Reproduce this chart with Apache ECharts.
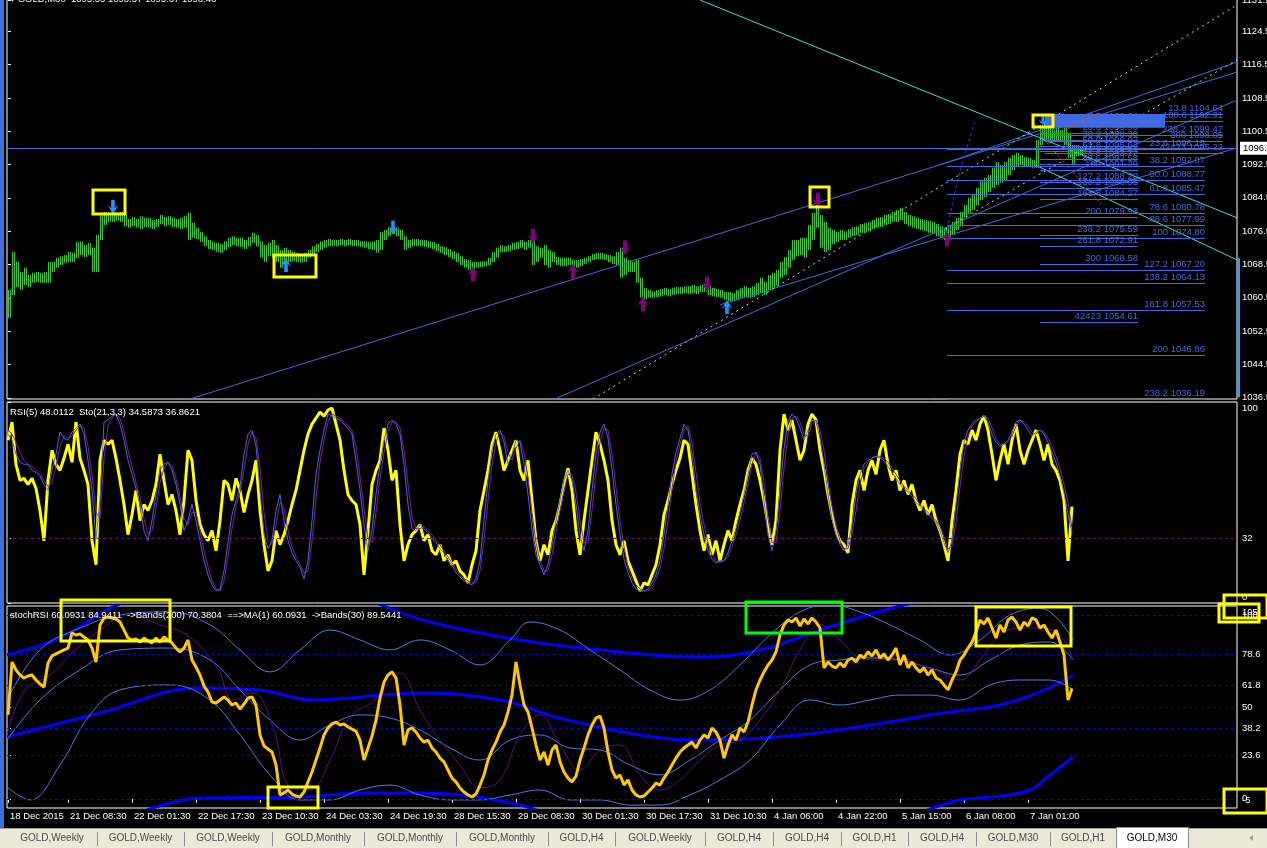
<!DOCTYPE html>
<html><head><meta charset="utf-8">
<script src="https://cdn.jsdelivr.net/npm/echarts@6/dist/echarts.min.js"></script>
<style>html,body{margin:0;padding:0;background:#000;overflow:hidden}#c{width:1267px;height:848px}</style>
</head><body><div id="c"></div>
<script>
// ---------------- DATA ----------------
const timeLabels = ['18 Dec 2015','21 Dec 08:30','22 Dec 01:30','22 Dec 17:30','23 Dec 10:30','24 Dec 03:30','24 Dec 19:30','28 Dec 15:30','29 Dec 08:30','30 Dec 01:30','30 Dec 17:30','31 Dec 10:30','4 Jan 06:00','4 Jan 22:00','5 Jan 15:00','6 Jan 08:00','7 Jan 01:00'];
const timeLabelBars = [0,30,62,94,126,158,190,222,254,286,318,350,382,414,446,478,510];
const priceTicks = [1036.5,1044.5,1052.5,1060.5,1068.5,1076.5,1084.5,1092.5,1100.5,1108.5,1116.5,1124.5,1131.9];
const rsiTicks = [100,32,0];
const rsiLevels = [32];
const stochTicks = [100,78.6,61.8,50,38.2,23.6,0];
const stochEdgeTicks = [105,-5];
const stochLevels = [100,78.6,61.8,50,38.2,23.6,0];
const bidPrice = 1096.4;

// one sample every 2 bars (M30)
const priceHigh = [1062.4,1071.5,1069.1,1066.7,1067.7,1066.0,1066.5,1066.7,1066.5,1066.7,
1069.1,1069.1,1070.1,1070.5,1070.8,1071.5,1071.3,1073.9,1074.1,1073.2,
1073.7,1072.5,1075.6,1080.9,1081.1,1080.9,1081.1,1080.9,1081.1,1080.4,
1079.4,1079.9,1079.4,1080.1,1079.7,1079.7,1079.2,1079.4,1080.4,1079.9,
1080.1,1079.7,1079.4,1079.7,1080.1,1080.9,1078.5,1077.3,1076.3,1075.3,
1074.4,1073.9,1073.7,1073.4,1074.1,1074.9,1075.3,1074.9,1074.9,1074.4,
1075.1,1076.1,1075.6,1074.1,1073.2,1073.7,1074.4,1073.2,1072.0,1072.5,
1072.0,1071.5,1071.3,1070.8,1071.3,1072.0,1072.9,1073.4,1074.1,1074.4,
1074.6,1074.4,1074.4,1074.6,1074.4,1074.6,1074.4,1074.4,1074.1,1074.1,
1073.9,1074.1,1074.4,1076.3,1076.8,1077.3,1077.5,1077.3,1076.8,1075.3,
1074.4,1074.6,1074.6,1074.4,1074.4,1074.1,1073.9,1073.4,1072.9,1072.7,
1072.2,1071.7,1071.3,1070.5,1069.8,1069.6,1069.1,1069.1,1069.3,1069.3,
1070.1,1071.5,1072.5,1073.2,1072.9,1073.2,1073.7,1073.9,1074.4,1073.9,
1074.4,1075.6,1072.9,1072.5,1073.2,1072.0,1071.5,1070.3,1070.1,1070.1,
1070.1,1069.6,1069.6,1069.8,1070.1,1070.5,1071.0,1071.3,1071.3,1071.0,
1070.8,1070.5,1071.5,1072.5,1070.1,1069.6,1069.1,1069.6,1065.3,1062.9,
1062.4,1062.1,1062.4,1062.6,1062.9,1062.6,1062.9,1063.1,1063.1,1063.3,
1063.3,1063.6,1063.3,1063.6,1063.8,1063.3,1062.9,1062.6,1062.4,1061.9,
1061.9,1061.6,1062.4,1062.9,1063.3,1062.9,1063.3,1064.1,1065.3,1064.3,
1066.0,1066.5,1067.2,1069.1,1070.3,1072.0,1074.4,1074.4,1074.9,1074.9,
1078.0,1080.9,1082.8,1080.4,1078.7,1077.3,1076.8,1076.3,1076.8,1076.5,
1077.0,1077.5,1077.7,1078.2,1078.5,1078.7,1079.2,1079.7,1079.9,1080.4,
1080.6,1081.1,1081.6,1082.1,1081.1,1080.4,1080.1,1079.7,1079.4,1079.2,
1079.0,1078.7,1078.2,1077.7,1077.3,1078.0,1078.7,1079.7,1081.1,1082.8,
1084.5,1085.2,1086.9,1088.8,1089.3,1090.0,1091.7,1093.1,1092.4,1093.1,
1094.1,1094.8,1095.3,1094.8,1094.3,1094.1,1093.6,1098.4,1102.0,1102.7,
1101.3,1100.8,1101.3,1100.8,1101.3,1100.1,1097.2,1097.2,1096.7];
const priceLow = [1055.7,1061.2,1063.1,1062.4,1063.6,1063.1,1064.1,1064.3,1064.1,1064.1,
1064.1,1066.7,1067.7,1068.4,1068.9,1069.1,1069.1,1070.1,1070.8,1070.3,
1070.8,1066.7,1066.7,1074.4,1078.0,1078.7,1078.7,1079.0,1078.7,1077.7,
1077.3,1077.7,1077.3,1077.0,1077.5,1077.3,1077.0,1077.5,1078.2,1077.7,
1078.0,1077.5,1077.3,1077.0,1077.3,1074.4,1074.9,1074.6,1073.9,1072.9,
1072.2,1072.0,1071.5,1071.3,1072.0,1072.7,1073.2,1072.9,1072.7,1072.2,
1072.9,1073.7,1072.9,1070.1,1069.1,1070.5,1070.1,1069.1,1067.7,1069.1,
1069.1,1069.3,1069.1,1068.9,1069.1,1070.1,1070.8,1071.5,1072.0,1072.5,
1072.9,1072.9,1072.9,1073.2,1072.9,1073.2,1072.9,1072.9,1072.7,1072.5,
1072.2,1072.0,1071.3,1072.0,1074.4,1075.3,1075.8,1075.3,1074.4,1072.0,
1072.5,1072.9,1072.9,1072.9,1072.7,1072.5,1072.2,1071.7,1071.3,1070.8,
1070.3,1069.8,1069.1,1068.4,1067.7,1067.2,1066.5,1067.7,1067.9,1068.1,
1068.4,1069.1,1070.1,1071.5,1071.5,1071.7,1072.0,1072.2,1072.5,1072.0,
1072.5,1068.4,1069.1,1070.1,1068.4,1067.7,1069.1,1068.4,1068.1,1068.1,
1068.4,1067.7,1067.7,1068.1,1068.6,1069.1,1069.6,1069.8,1069.8,1069.6,
1069.1,1068.6,1068.4,1065.3,1066.0,1066.7,1066.7,1064.1,1060.5,1060.0,
1060.5,1060.5,1060.7,1060.9,1061.2,1060.9,1061.2,1061.4,1061.4,1061.6,
1061.4,1061.6,1061.4,1061.9,1061.9,1061.2,1060.9,1060.7,1060.5,1060.0,
1059.7,1059.7,1060.0,1060.5,1060.7,1060.5,1060.7,1061.2,1061.6,1061.2,
1062.4,1062.9,1063.6,1065.3,1066.0,1067.7,1069.6,1070.5,1070.8,1070.1,
1072.0,1074.4,1077.3,1072.5,1071.5,1072.0,1073.4,1073.9,1074.4,1074.4,
1074.9,1075.3,1075.6,1076.1,1076.3,1076.5,1077.0,1077.3,1077.5,1078.0,
1078.2,1078.7,1078.7,1079.2,1078.2,1077.7,1077.3,1077.0,1076.8,1076.5,
1076.1,1075.8,1075.3,1074.9,1074.4,1074.9,1075.6,1076.8,1078.0,1079.7,
1080.9,1081.6,1082.8,1084.0,1084.7,1085.9,1086.9,1087.6,1088.1,1088.8,
1090.0,1091.2,1092.1,1092.4,1092.1,1091.9,1091.7,1091.7,1097.2,1098.4,
1097.7,1097.9,1098.4,1097.9,1097.2,1094.1,1092.4,1094.5,1094.8];

const rsi5 = [81,90,69,61,62,59,62,57,46,31, 61,76,69,66,72,79,70,90,72,66,
59,31,19,71,81,79,81,72,61,49, 34,44,56,41,49,46,51,59,74,61,
49,54,46,34,51,76,71,51,39,34, 31,36,26,41,61,59,51,62,56,45,
54,61,71,46,29,16,21,36,29,34, 41,49,56,66,76,84,89,92,95,93,
96,97,89,81,66,54,51,49,39,14, 36,59,66,71,87,76,61,66,39,21,
29,34,36,39,31,34,26,24,29,21, 24,19,21,16,14,10,19,26,46,56,
66,79,85,76,66,71,76,81,66,61, 71,51,31,21,29,24,36,41,49,59,
67,56,36,24,41,56,71,85,79,71, 61,41,29,24,31,21,16,11,6,10,
9,14,19,29,44,51,59,66,72,81, 79,64,49,36,26,34,24,31,21,29,
36,31,41,49,56,66,72,69,61,51, 39,29,41,76,94,86,91,81,71,76,
89,94,91,76,66,54,44,36,31,29, 25,49,61,66,56,66,71,64,76,81,
69,61,66,56,61,54,59,51,46,51, 44,49,41,36,29,21,41,56,74,81,
79,86,81,89,93,86,74,61,71,79, 69,81,89,76,69,76,81,86,79,71,
79,69,66,61,51,21,48];
const stoMain = [84,81,74,70,69,69,66,65,63,59, 56,66,74,85,82,81,85,87,89,84,
71,56,32,51,90,91,93,94,89,81, 71,64,57,49,36,31,41,54,66,69,
70,66,59,49,36,41,49,41,31,21, 14,9,6,7,16,30,44,51,58,74,
84,86,78,56,34,27,31,46,54,41, 31,25,21,18,12,21,41,64,76,86,
94,93,92,91,89,87,84,71,56,39, 26,36,54,69,81,89,91,89,84,69,
49,37,36,39,37,35,32,30,27,25, 21,19,15,13,11,10,9,12,21,41,
61,76,84,86,80,69,74,81,80,69, 54,36,24,19,14,19,29,41,51,61,
66,61,49,34,26,36,56,74,85,89, 82,66,49,34,22,15,10,7,6,6,
7,10,14,21,34,49,64,75,82,89, 86,74,56,44,34,26,22,20,21,21,
25,31,37,45,54,64,74,75,69,51, 34,26,36,56,77,90,94,92,87,81,
86,91,90,82,69,54,42,34,29,26, 29,39,54,64,69,71,72,73,72,71,
68,65,62,59,57,55,53,50,48,46, 44,42,40,36,30,25,31,49,66,80,
86,89,91,92,93,90,84,80,78,79, 81,85,90,91,89,86,83,85,86,84,
80,75,70,63,55,44,35];
const stoSignal = [86,84,80,75,71,69,68,66,64,61, 58,60,68,78,83,82,83,86,88,87,
78,64,45,42,72,88,92,94,92,85, 76,68,60,53,42,34,36,47,60,67,
70,68,62,53,42,39,45,45,36,26, 18,11,7,6,11,23,37,48,55,66,
79,85,82,67,45,31,29,39,50,47, 36,28,23,19,15,16,31,52,70,81,
90,94,93,92,90,88,86,78,63,47, 32,30,45,62,75,85,90,90,87,76,
59,43,37,37,38,36,34,31,29,26, 23,20,17,14,12,11,10,10,16,31,
51,69,80,85,83,75,71,77,81,75, 62,45,30,21,16,16,24,35,46,56,
64,64,55,41,30,30,46,65,80,87, 86,74,57,41,28,18,12,9,7,6,
6,8,12,17,27,41,57,70,79,86, 88,80,65,50,39,30,24,21,20,21,
23,28,34,41,50,59,69,75,72,60, 42,30,30,46,67,84,92,93,90,84,
83,89,91,86,76,61,48,38,31,27, 27,34,46,59,67,70,72,73,73,72,
70,67,64,61,58,56,54,52,49,47, 45,43,41,38,33,27,28,40,58,73,
83,88,90,92,93,92,87,82,79,79, 80,83,88,91,90,88,85,84,86,85,
82,78,73,67,59,50,37];

const stochRSI = [45.7,74.5,70.2,67.4,65.8,66.9,67.4,64.7,62.5,60.9,
74.0,77.8,78.9,80.0,81.1,82.1,90.3,89.2,89.8,88.1,
86.5,82.1,74.5,94.7,98.5,99.0,98.5,97.9,96.3,91.9,
87.6,86.5,87.0,85.4,87.6,86.0,84.9,87.6,85.4,88.1,
86.5,84.9,82.1,80.0,82.1,86.5,75.6,71.8,67.4,61.4,
58.2,52.7,52.2,53.8,55.5,53.8,51.1,52.2,48.9,51.6,
54.9,55.5,51.1,34.8,28.8,27.1,25.5,18.4,2.1,3.2,
4.8,2.6,1.5,1.0,3.7,9.2,14.6,21.1,27.7,34.8,
38.6,40.8,41.8,40.2,40.8,39.1,38.0,36.9,32.0,21.1,
27.7,34.2,42.9,54.9,63.6,67.4,69.1,65.8,51.1,29.3,
37.5,38.6,36.4,33.1,30.9,32.0,27.7,25.5,22.2,20.1,
15.7,11.3,9.2,5.9,3.7,2.1,1.0,2.6,7.5,13.0,
21.1,26.6,30.9,36.4,40.2,47.3,56.5,74.5,62.0,51.1,
47.3,38.6,29.3,21.1,25.5,18.4,26.6,29.3,20.1,14.6,
11.3,9.2,12.4,21.1,27.7,34.8,40.2,44.0,45.1,38.6,
25.5,15.7,11.3,13.0,7.5,10.3,4.8,2.1,1.0,1.5,
3.7,5.9,8.6,7.5,11.3,14.6,18.4,22.2,25.5,27.7,
29.3,30.9,27.7,32.0,34.8,33.1,38.6,36.4,32.0,22.2,
29.3,34.8,32.0,38.6,36.4,41.8,51.1,59.3,64.7,69.1,
72.9,75.6,80.0,89.2,94.7,97.4,96.3,98.5,94.1,97.9,
95.2,98.5,96.3,93.0,71.3,74.5,72.3,71.3,74.0,71.8,
75.6,76.7,74.5,78.3,76.7,80.0,77.8,81.1,76.7,78.9,
75.6,78.3,82.1,72.9,78.3,71.3,74.5,71.3,69.1,71.3,
67.4,70.2,65.8,64.7,62.0,59.3,64.7,69.1,75.6,78.3,
82.1,85.4,90.8,97.4,95.2,98.5,93.0,87.6,94.7,90.8,
97.4,99.0,96.3,91.9,96.3,94.1,98.5,97.4,93.0,94.7,
90.8,87.6,91.9,85.4,78.3,53.8,60.1];

// sparse [bar, value] readings of the smoother band lines
const bands200Mid = [[-0.5,33.7],[46,46.7],[96,60.4],[126,59.3],[152.5,53.8],[206,57.6],[246,53.8],[276,44.0],[316,34.8],[346,32.0],[396,34.8],[431,40.2],[471,47.3],[496,51.1],[516,58.2],[532.5,67.4]];
const bands200Up = [[-0.5,78.3],[26,87.6],[52.5,104.5],[81,113.7],[146,116.5],[211,96.3],[256,86.5],[296,81.1],[346,77.2],[376,81.1],[406,91.9],[446,105.0],[476,111.0]];
const bands200Low = [[69.5,-6.1],[96,0.4],[146,1.0],[179.5,3.2],[206,3.2],[231,1.5],[256,-3.4],[276,-8.8],[446,-8.8],[476,-0.6],[496,1.5],[511,4.8],[521,13.0],[532.5,22.8]];
const bands30Up = [[-0.5,53.8],[16,81.1],[36,93.0],[56,100.1],[81,101.8],[101,94.7],[116,81.1],[131,69.1],[146,81.1],[161,91.9],[176,86.5],[191,81.1],[206,86.5],[221,81.1],[236,72.9],[251,86.5],[261,96.3],[276,91.9],[291,81.1],[306,70.2],[321,59.3],[336,53.8],[351,59.3],[366,72.9],[381,89.2],[396,101.8],[411,105.6],[426,101.8],[441,94.7],[456,86.5],[471,78.3],[486,86.5],[501,100.1],[516,103.9],[532.5,86.5]];
const bands30Mid = [[-0.5,32.0],[16,53.8],[36,70.2],[56,81.1],[81,82.1],[101,75.6],[116,59.3],[131,42.9],[146,32.0],[161,40.2],[176,45.7],[191,44.0],[206,37.5],[221,27.7],[236,21.1],[251,32.0],[266,34.8],[281,27.7],[296,26.6],[311,18.4],[326,13.0],[341,21.1],[356,32.0],[371,42.9],[386,59.3],[401,72.9],[416,75.6],[431,76.7],[446,75.6],[461,71.3],[476,67.4],[491,75.6],[506,83.8],[521,85.4],[532.5,75.6]];
const bands30Low = [[-0.5,6.4],[11,-0.6],[26,18.4],[41,45.7],[56,59.3],[81,62.0],[101,53.8],[116,34.8],[131,13.0],[146,-0.6],[161,-0.6],[176,4.8],[191,7.5],[206,2.1],[221,-0.6],[236,-0.6],[251,2.1],[266,4.8],[281,-0.6],[296,-0.6],[311,-3.4],[326,-3.4],[341,2.1],[356,10.3],[371,21.1],[386,40.2],[401,53.8],[416,51.1],[431,53.8],[446,56.5],[461,56.5],[476,53.8],[491,62.0],[506,64.7],[521,64.7],[532.5,59.3]];
const stochMA = [[-0.5,34.8],[8.5,59.3],[21,67.4],[33.5,81.1],[46,91.9],[59.5,100.1],[76,94.7],[89.5,89.2],[104.5,71.8],[112.5,53.8],[122.5,57.6],[132.5,39.1],[141,6.4],[151,4.8],[161,21.1],[171,44.6],[183.5,53.8],[196,68.5],[206,48.4],[216,32.0],[226,18.4],[236,5.9],[246,10.3],[256,34.8],[266,45.7],[276,29.3],[286,15.7],[296,26.6],[306,29.3],[316,13.0],[326,4.8],[336,10.3],[346,21.1],[356,29.3],[366,32.0],[376,42.9],[386,59.3],[396,81.1],[406,94.7],[416,86.5],[426,76.7],[436,75.6],[446,76.7],[456,72.9],[466,69.1],[476,64.7],[486,75.6],[496,89.2],[506,93.0],[516,93.0],[526,89.2],[532.5,75.6]];

// chart objects on the price pane: [barStart, priceStart, barEnd, priceEnd]
const trendLinesBlue = [[91,1036.2,614.5,1114.7],[273.5,1036.2,614.5,1108.0],[356,1058.8,614.5,1096.5],[466,1092.4,614.5,1117.1]];
const cyanLines = [[346,1132.0,614.5,1079.7],[513.5,1092.4,614.5,1069.6]];
const dottedCyanLines = [[292.5,1036.2,614.5,1130.8],[466,1076.3,614.5,1117.6]];
const redDottedLines = [[521,1098.9,546,1105.1],[519.5,1097.7,547,1082.8]];
const fibArc = [[469.5,1075.6],[474,1087.0],[483.5,1102.7]];

// Fibonacci levels [label, price]
const fibA = [['0.0',1102.64],['23.6',1099.96],['38.2',1098.30],['50.0',1096.97],['61.8',1095.63],['78.6',1093.72],['88.6',1092.58],['100',1091.29],['127.2',1088.20],['138.2',1086.95],['161.8',1084.27],['200',1079.93],['238.2',1075.59],['261.8',1072.91],['300',1068.58],['42423',1054.61]];
const fibB = [['23.6',1096.15],['38.2',1092.07],['50.0',1088.77],['61.8',1085.47],['78.6',1080.78],['88.6',1077.99],['100',1074.80],['127.2',1067.20],['138.2',1064.13],['161.8',1057.53],['200',1046.86],['238.2',1036.19]];
const fibC = [['13.8',1104.64],['188.6',1102.91],['238.2',1099.47],['300',1098.05],['42423',1095.22]];
const fibARange = [516,565], fibBRange = [469.5,598.5], fibCRange = [518.5,607.5];
const fibBlock = [[518.5,1104.6,578.5,1101.3]];

// signal arrows [bar, price]
const blueDownArrows = [[52.5,1082.3],[192.5,1077.3]];
const blueSmallArrows = [[517.5,1103.0]];
const blueUpArrows = [[139,1068.4],[359.5,1058.3]];
const purpleDownArrows = [[262.5,1075.3],[308.5,1072.5],[405,1084.0],[349.5,1063.8]];
const purpleUpArrows = [[232.5,1066.2],[282.5,1066.9],[317.5,1059.0],[469.5,1074.6]];
const rightMeter = [[615,1070.0,1036.6]];

// highlight boxes [barStart, valueTop, barEnd, valueBottom]
const priceBoxes = [[42.5,1086.4,58.5,1080.6],[133,1070.8,154,1065.5],[401,1087.1,410.5,1082.3],[512.5,1104.4,522.5,1101.5]];
const stochBoxes = [[26.5,108.3,81,86.0],[484,104.5,531.5,83.2],[130,6.4,155,-5.0]];
const stochGreenBoxes = [[369,107.2,417,90.3]];

const priceHeader = '\u25BE GOLD,M30  1095.55 1096.57 1095.67 1096.46';
const rsiHeader = 'RSI(5) 48.0112  Sto(21,3,3) 34.5873 36.8621';
const stochHeader = 'stochRSI 60.0931 84.9411  ->Bands(200) 70.3804  ==>MA(1) 60.0931  ->Bands(30) 89.5441';
const tabNames = ['GOLD,Weekly','GOLD,Weekly','GOLD,Weekly','GOLD,Monthly','GOLD,Monthly','GOLD,Monthly','GOLD,H4','GOLD,Weekly','GOLD,H4','GOLD,H4','GOLD,H1','GOLD,H4','GOLD,M30','GOLD,H1'];
const activeTab = 'GOLD,M30';

// ---------------- CHART ----------------
const FONT = '"Liberation Sans", Arial, sans-serif';
const FS = 9.5;
const X_MIN = -0.5, X_MAX = 614.5, SAMPLE = 2;
const sampled = arr => arr.map((v, i) => [i * SAMPLE, v]);

function segSeries(grid, segs, color, width, dash, z) {
  return {type:'custom', xAxisIndex:grid, yAxisIndex:grid, clip:true, silent:true, z:z||2, data:segs,
    renderItem(p, api){
      const a = api.coord([api.value(0), api.value(1)]), b = api.coord([api.value(2), api.value(3)]);
      return {type:'line', shape:{x1:a[0],y1:a[1],x2:b[0],y2:b[1]}, style:{stroke:color, lineWidth:width, lineDash:dash||null, fill:null}};
    }};
}
function boxSeries(grid, boxes, color) {
  return {type:'custom', xAxisIndex:grid, yAxisIndex:grid, clip:false, silent:true, z:20, data:boxes,
    renderItem(p, api){
      const a = api.coord([api.value(0), api.value(1)]), b = api.coord([api.value(2), api.value(3)]);
      return {type:'rect', shape:{x:Math.min(a[0],b[0]), y:Math.min(a[1],b[1]), width:Math.abs(b[0]-a[0]), height:Math.abs(b[1]-a[1])},
        style:{fill:'none', stroke:color, lineWidth:3}};
    }};
}
function fibSeries(levels, range) {
  return {type:'custom', xAxisIndex:0, yAxisIndex:0, clip:false, silent:true, z:4,
    data: levels.map((l, i) => [range[0], range[1], l[1], i]),
    renderItem(p, api){
      const a = api.coord([api.value(0), api.value(2)]), b = api.coord([api.value(1), api.value(2)]);
      const y = Math.round(a[1]) + 0.5;
      const lv = levels[p.dataIndex];
      return {type:'group', children:[
        {type:'line', shape:{x1:a[0],y1:y,x2:b[0],y2:y}, style:{stroke:'#4169E1', lineWidth:1}},
        {type:'text', style:{text: lv[0] + ' ' + lv[1].toFixed(2), x:b[0], y:y-1, align:'right', verticalAlign:'bottom', textAlign:'right', textVerticalAlign:'bottom', fill:'#4169E1', font: FS + 'px ' + FONT}}
      ]};
    }};
}
function lineS(grid, data, color, width, z, extra) {
  return Object.assign({type:'line', xAxisIndex:grid, yAxisIndex:grid, data, symbol:'none', showSymbol:false, silent:true, animation:false,
    lineStyle:{color, width}, z:z||3}, extra||{});
}
const ARROW = 'path://M4,0L8,0L8,8L12,5L6,14L0,5L4,8Z';
function arrowS(data, color, up, size) {
  return {type:'scatter', xAxisIndex:0, yAxisIndex:0, data, symbol:ARROW, symbolSize:size||[11,14], symbolRotate: up ? 180 : 0,
    itemStyle:{color, opacity:1}, silent:true, z:6};
}

const xAxes = [0,1,2].map(g => ({
  gridIndex:g, type:'value', min:X_MIN, max:X_MAX, show: g === 2,
  axisLine:{show:false}, splitLine:{show:false},
  axisTick:{show:true, customValues: timeLabelBars, length:4, inside:false, lineStyle:{color:'#fff'}},
  axisLabel:{show:true, customValues: timeLabelBars, formatter: v => timeLabels[timeLabelBars.indexOf(v)] || '', hideOverlap:false,
    align:'left', color:'#fff', fontSize:FS, fontFamily:FONT, margin:3, padding:[0,0,0,2]}
}));
const richBase = {color:'#fff', fontSize:FS, fontFamily:FONT};
function yAx(g, min, max, ticks, fmt, showTicks) {
  return {gridIndex:g, type:'value', position:'right', min, max, splitLine:{show:false}, axisLine:{show:false},
    axisTick:{show: showTicks !== false, customValues: ticks, length:3, inside:false, lineStyle:{color:'#fff'}},
    axisLabel:{customValues: ticks, formatter: fmt, hideOverlap:false, showMinLabel:true, showMaxLabel:true, color:'#fff', fontSize:FS, fontFamily:FONT, margin:5,
      rich:{dn:Object.assign({padding:[13,0,0,0]}, richBase), up:Object.assign({padding:[0,0,11,0]}, richBase), up2:Object.assign({padding:[0,0,16,0]}, richBase)}}};
}

const tabEdges = [7,97,184,272,364,456,548,615,705,773,841,908,976,1050,1116];
const graphics = [
  {type:'rect', shape:{x:0,y:0,width:4,height:828}, style:{fill:'#3d6fd6'}, z:100},
  {type:'text', x:10, y:4, style:{text:priceHeader, fill:'#fff', font:FS+'px '+FONT, verticalAlign:'bottom', textVerticalAlign:'bottom'}, z:100},
  {type:'text', x:10, y:407, style:{text:rsiHeader, fill:'#fff', font:FS+'px '+FONT, verticalAlign:'top', textVerticalAlign:'top'}, z:100},
  {type:'text', x:10, y:610, style:{text:stochHeader, fill:'#fff', font:FS+'px '+FONT, verticalAlign:'top', textVerticalAlign:'top'}, z:100},
  {type:'rect', shape:{x:1224,y:595,width:43,height:23}, style:{fill:'none', stroke:'#ffff00', lineWidth:3}, z:100},
  {type:'rect', shape:{x:1219,y:604,width:40,height:18}, style:{fill:'none', stroke:'#ffff00', lineWidth:3}, z:100},
  {type:'rect', shape:{x:1224,y:789,width:43,height:24}, style:{fill:'none', stroke:'#ffff00', lineWidth:3}, z:100},
  {type:'rect', shape:{x:0,y:828,width:1267,height:20}, style:{fill:'#ECE9D8'}, z:100},
  {type:'line', shape:{x1:0,y1:828.5,x2:1267,y2:828.5}, style:{stroke:'#a0a0a0', lineWidth:1}, z:101},
  {type:'rect', shape:{x:1116.5,y:827.5,width:72,height:21}, style:{fill:'#fff', stroke:'#8c8c8c', lineWidth:1}, z:101},
  {type:'text', x:1152, y:838, style:{text:activeTab, fill:'#000', font:'10px '+FONT, align:'center', verticalAlign:'middle', textAlign:'center', textVerticalAlign:'middle'}, z:102},
  {type:'polygon', shape:{points:[[1249,838],[1253,835],[1253,841]]}, style:{fill:'#a0a0a0'}, z:102}
];
tabNames.forEach((t, i) => {
  const x0 = tabEdges[i], x1 = tabEdges[i+1];
  graphics.push({type:'text', x:(x0+x1)/2, y:838, style:{text:t, fill:'#4a4a4a', font:'10px '+FONT, align:'center', verticalAlign:'middle', textAlign:'center', textVerticalAlign:'middle'}, z:102});
  if (i > 0) graphics.push({type:'line', shape:{x1:x0+0.5,y1:832,x2:x0+0.5,y2:846}, style:{stroke:'#8c8c8c', lineWidth:1}, z:102});
});

const gridBase = {left:7, width:1230, show:true, borderColor:'#fff', borderWidth:1, backgroundColor:'transparent', containLabel:false, outerBoundsMode:'none'};
const option = {
  backgroundColor:'#000', animation:false,
  grid:[
    Object.assign({top:-1, height:400}, gridBase),
    Object.assign({top:402, height:201}, gridBase),
    Object.assign({top:606, height:202}, gridBase)
  ],
  xAxis: xAxes,
  yAxis:[
    yAx(0, 1036.2, 1132.24, priceTicks, v => v.toFixed(2)),
    yAx(1, 0, 100, rsiTicks, v => v === 100 ? '{dn|100}' : (v === 0 ? '{up|0}' : String(v))),
    yAx(2, -5, 105, stochTicks, v => String(v)),
    yAx(2, -5, 105, stochEdgeTicks, v => v === 105 ? '{dn|105}' : '{up2|-5}', false)
  ],
  graphic: graphics,
  series:[
    // price pane
    {type:'custom', xAxisIndex:0, yAxisIndex:0, clip:true, silent:true, z:2,
     data: priceHigh.map((h, i) => [i*SAMPLE, h, priceLow[i]]),
     renderItem(p, api){
       const t = api.coord([api.value(0), api.value(1)]), b = api.coord([api.value(0), api.value(2)]);
       const t2 = api.coord([api.value(0)+1, api.value(1)]);
       const h = Math.max(1, b[1]-t[1]);
       return {type:'group', children:[
         {type:'rect', shape:{x:Math.floor(t[0]), y:t[1], width:1, height:h}, style:{fill:'#32CD32'}},
         {type:'rect', shape:{x:Math.floor(t2[0]), y:t[1], width:1, height:h}, style:{fill:'#32CD32'}}
       ]};
     }},
    lineS(0, [], '#4169E1', 1, 3, {markLine:{silent:true, symbol:['none','none'], animation:false, data:[{yAxis:bidPrice}],
      lineStyle:{color:'#4169E1', width:1, type:'solid'},
      label:{show:true, position:'end', formatter: bidPrice.toFixed(1), color:'#000', backgroundColor:'#fff', padding:[2,3,1,3], fontSize:FS, fontFamily:FONT, distance:3}}}),
    segSeries(0, trendLinesBlue, '#4169E1', 1, null, 3),
    segSeries(0, cyanLines, '#40E0D0', 1, null, 3),
    segSeries(0, dottedCyanLines, '#7FFFD4', 1, [2,4], 3),
    segSeries(0, redDottedLines, '#FF4500', 1, [2,2], 5),
    lineS(0, fibArc, '#2040ff', 1, 3, {smooth:0.5, lineStyle:{color:'#2040ff', width:1, type:[3,3]}}),
    {type:'custom', xAxisIndex:0, yAxisIndex:0, clip:false, silent:true, z:4, data:fibBlock,
     renderItem(p, api){
       const a = api.coord([api.value(0), api.value(1)]), b = api.coord([api.value(2), api.value(3)]);
       return {type:'rect', shape:{x:a[0], y:a[1], width:b[0]-a[0], height:b[1]-a[1]}, style:{fill:'#4169E1'}};
     }},
    fibSeries(fibA, fibARange),
    fibSeries(fibB, fibBRange),
    fibSeries(fibC, fibCRange),
    {type:'custom', xAxisIndex:0, yAxisIndex:0, clip:false, silent:true, z:5, data:rightMeter,
     renderItem(p, api){
       const a = api.coord([api.value(0), api.value(1)]), b = api.coord([api.value(0), api.value(2)]);
       return {type:'rect', shape:{x:a[0]-1, y:a[1], width:3, height:b[1]-a[1]}, style:{fill:'#3399ff'}};
     }},
    arrowS(blueDownArrows, '#1E90FF', false),
    arrowS(blueSmallArrows, '#1E90FF', false, [9,9]),
    arrowS(blueUpArrows, '#1E90FF', true),
    arrowS(purpleDownArrows, '#800080', false, [12,15]),
    arrowS(purpleUpArrows, '#800080', true, [12,15]),
    boxSeries(0, priceBoxes, '#ffff00'),
    // RSI pane
    lineS(1, sampled(rsi5), '#FFFF00', 3, 3, {markLine:{silent:true, symbol:['none','none'], animation:false, data: rsiLevels.map(v => ({yAxis:v})),
      lineStyle:{color:'#800080', width:1, type:[3,3]}, label:{show:false}}}),
    lineS(1, sampled(stoSignal), '#8B1A9B', 1, 4),
    lineS(1, sampled(stoMain), '#4169E1', 1, 5),
    // stochRSI pane
    lineS(2, bands200Mid, '#0000FF', 3, 3, {smooth:0.4}),
    lineS(2, bands200Up, '#0000FF', 3, 3, {smooth:0.4}),
    lineS(2, bands200Low, '#0000FF', 3, 3, {smooth:0.4}),
    lineS(2, bands30Up, '#4f7be8', 1, 3, {smooth:0.4}),
    lineS(2, bands30Mid, '#4f7be8', 1, 3, {smooth:0.4}),
    lineS(2, bands30Low, '#4f7be8', 1, 3, {smooth:0.4}),
    lineS(2, stochMA, '#60107a', 1, 3, {smooth:0.4}),
    lineS(2, sampled(stochRSI), '#FFC800', 3, 5, {markLine:{silent:true, symbol:['none','none'], animation:false, data: stochLevels.map(v => ({yAxis:v})),
      lineStyle:{color:'#0000FF', width:1, type:[3,3]}, label:{show:false}}}),
    boxSeries(2, stochBoxes, '#ffff00'),
    boxSeries(2, stochGreenBoxes, '#00ff00')
  ]
};
const chart = echarts.init(document.getElementById('c'));
chart.setOption(option);
</script>
</body></html>
